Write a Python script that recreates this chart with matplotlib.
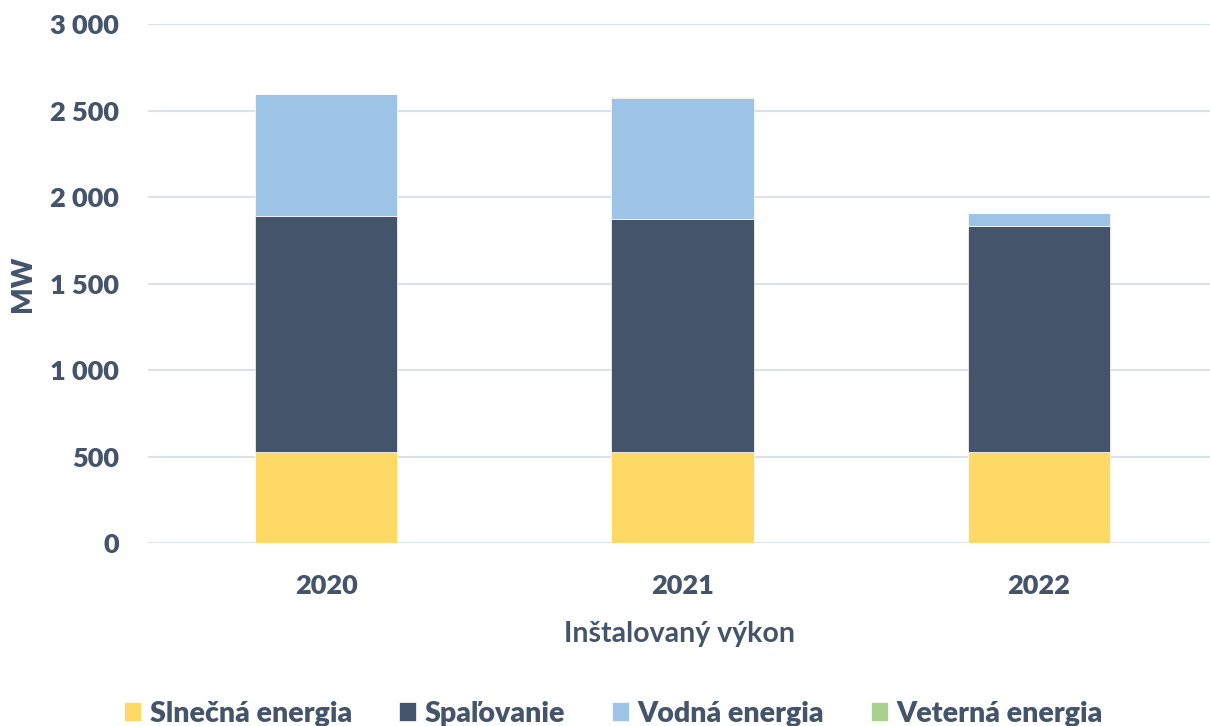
import numpy as np
import matplotlib.pyplot as plt

plt.rcParams['font.family'] = ['Lato', 'DejaVu Sans']

years = ['2020', '2021', '2022']
slnecna = [528, 530, 527]
spalovanie = [1362, 1342, 1305]
vodna = [703, 703, 75]
veterna = [3, 3, 3]

series = [
    ('Slnečná energia', slnecna, '#FED966'),
    ('Spaľovanie', spalovanie, '#44546A'),
    ('Vodná energia', vodna, '#9DC3E6'),
    ('Veterná energia', veterna, '#A9D18E'),
]

txt = '#44546A'

fig = plt.figure(figsize=(12.1, 7.26), dpi=100)
ax = fig.add_axes([148/1210, 1-543.3/726, 1-148/1210, (543.3-24)/726])

x = np.arange(len(years))
bottom = np.zeros(len(years))
for name, vals, col in series:
    ax.bar(x, vals, 0.4, bottom=bottom, color=col, label=name, zorder=3,
           edgecolor='white', linewidth=0.5)
    bottom += np.array(vals)

ax.set_ylim(0, 3000)
ax.set_xlim(-0.5, 2.48)
ax.set_yticks(np.arange(0, 3001, 500))
ax.set_yticklabels([f'{v:,}'.replace(',', ' ') for v in range(0, 3001, 500)])
ax.set_xticks(x)
ax.set_xticklabels(years)
ax.grid(axis='y', color='#DDE2EA', linewidth=1.5, zorder=0)
for s in ax.spines.values():
    s.set_visible(False)
ax.tick_params(length=0, labelsize=19.5, labelcolor=txt, pad=21)
ax.tick_params(axis='x', pad=22)
for lab in ax.get_xticklabels() + ax.get_yticklabels():
    lab.set_fontweight('heavy')

ax.set_ylabel('MW', fontsize=20, color=txt, fontweight='heavy')
ax.yaxis.set_label_coords(-112/1062, 0.5)
ax.set_xlabel('Inštalovaný výkon', fontsize=20.5, color=txt, fontweight='bold', labelpad=17)

fig.legend(loc='lower center', bbox_to_anchor=(0.507, -0.036), ncol=4, frameon=False,
           labelcolor=txt, handlelength=0.6, handleheight=0.6,
           handletextpad=0.3, columnspacing=1.65, prop={'weight': 'heavy', 'size': 20.5})

fig.savefig('out.png', dpi=100)
